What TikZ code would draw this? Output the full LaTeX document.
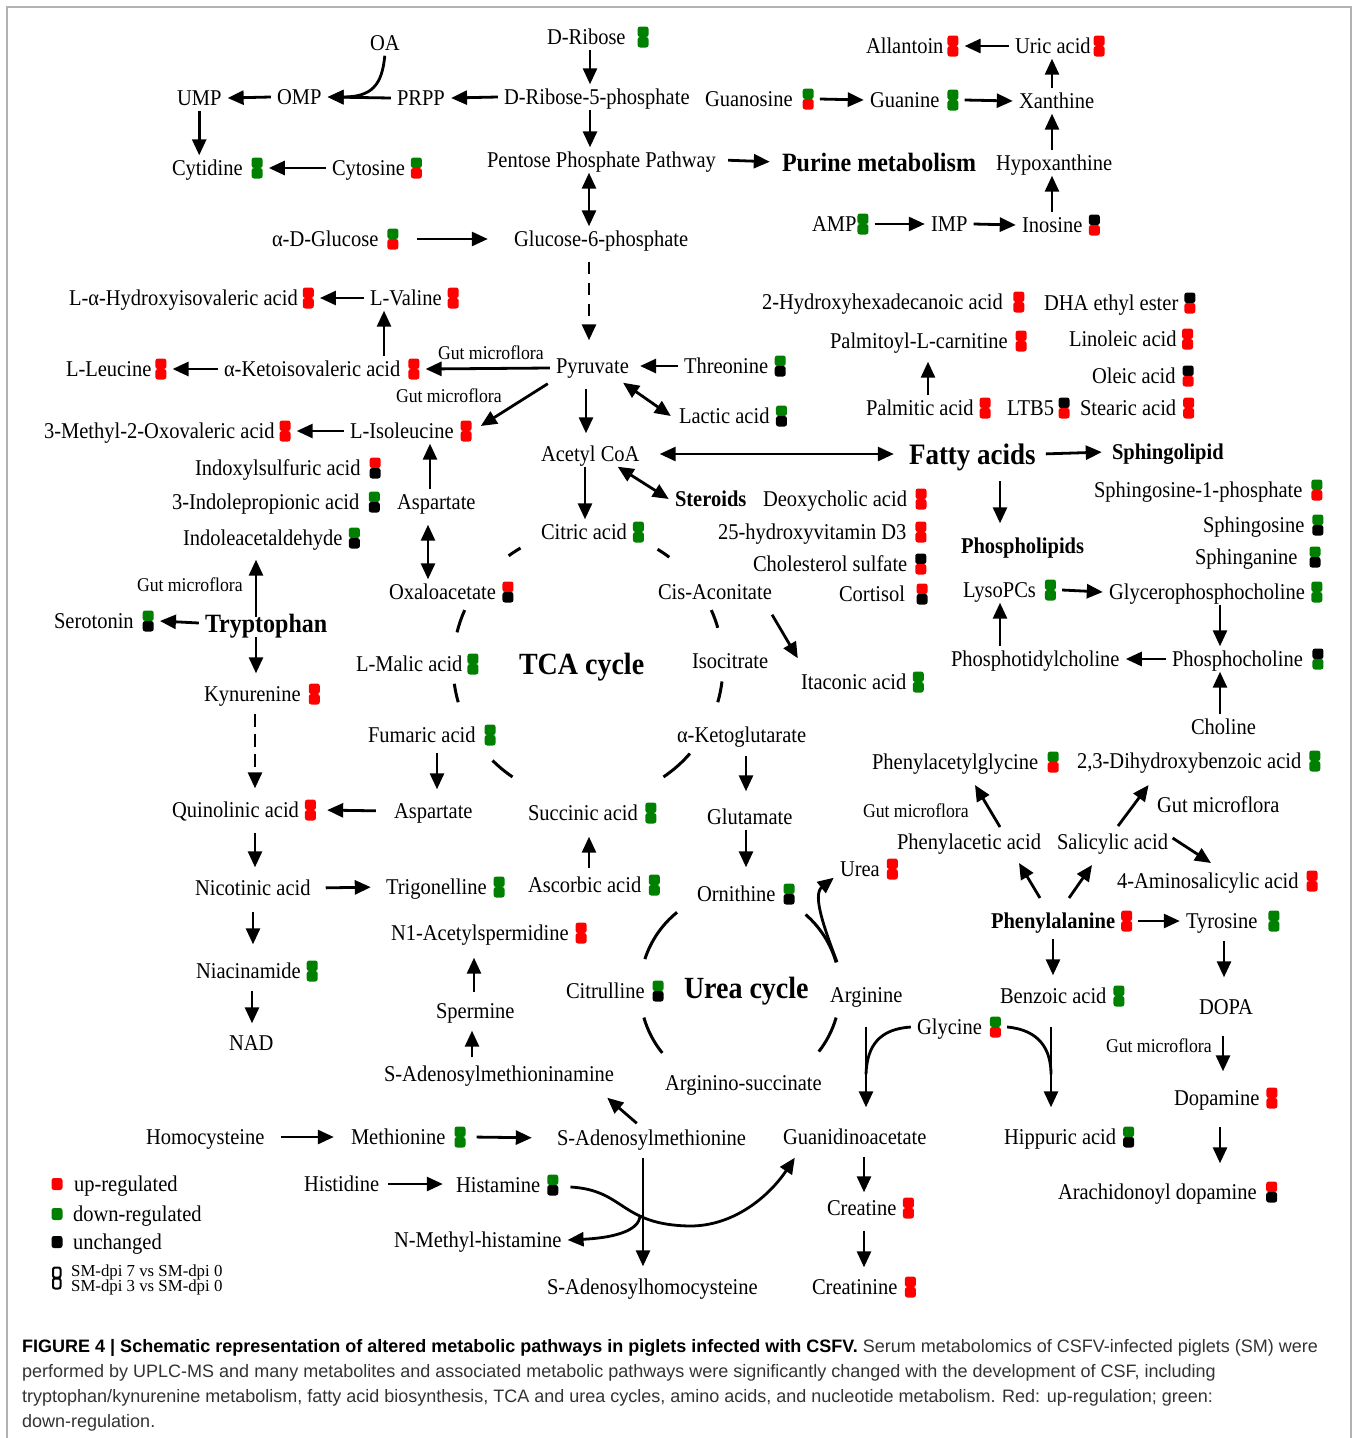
\documentclass[tikz,border=0pt]{standalone}
\usepackage{graphicx}
\usepackage{fontspec}
\setmainfont{Liberation Serif}
\newfontfamily\capfont{Liberation Sans}
\usetikzlibrary{arrows.meta,calc}
\definecolor{mred}{RGB}{255,0,0}
\definecolor{mgreen}{RGB}{0,128,0}
\definecolor{mblack}{RGB}{0,0,0}
\newcommand{\tx}[1]{\scalebox{1}[1.1]{#1}}
\newcommand{\mk}[3][7pt]{\hspace{#1}\tikz[baseline=-7.5pt]{\fill[#2,rounded corners=2.5pt] (0pt,0pt) rectangle (11pt,10.5pt);\fill[#3,rounded corners=2.5pt] (0pt,0pt) rectangle (11pt,-10.5pt);}}
\tikzset{
 nbase/.style={anchor=text, inner xsep=6pt, inner ysep=5pt, text depth=0pt},
 lab/.style={nbase, yshift=-7.5pt, text height=15pt, font=\fontsize{20.5}{24}\selectfont},
 lb/.style={lab, font=\fontsize{20.5}{24}\selectfont\bfseries},
 b24/.style={nbase, yshift=-9pt, text height=18pt, font=\fontsize{24}{28}\selectfont\bfseries},
 b27/.style={nbase, yshift=-10pt, text height=20pt, font=\fontsize{27}{31}\selectfont\bfseries},
 b28/.style={nbase, yshift=-10.5pt, text height=21pt, font=\fontsize{28}{32}\selectfont\bfseries},
 smlab/.style={nbase, yshift=-6.5pt, text height=13pt, font=\fontsize{17.7}{20}\selectfont},
 leglab/.style={anchor=base west, inner sep=0pt, text height=11pt, text depth=2pt, font=\fontsize{16.8}{18}\selectfont},
 captxt/.style={anchor=base west, inner sep=0pt, font=\capfont\fontsize{18}{20}\selectfont, text=black!80},
 arr/.style={line width=2.8pt, -{Triangle[length=16pt,width=14pt]}},
 darr/.style={line width=2.8pt, {Triangle[length=16pt,width=14pt]}-{Triangle[length=16pt,width=14pt]}},
 ln/.style={line width=2.8pt},
 cyc/.style={line width=3pt},
 legsq/.style={minimum width=11pt, minimum height=12pt, inner sep=0pt, rounded corners=2.5pt},
}
\begin{document}
\begin{tikzpicture}[x=1pt,y=-1pt]
\useasboundingbox (0,0) rectangle (1360,1438);
\fill[white] (0,0) rectangle (1360,1438);
\draw[gray!60, line width=1.2pt] (7,1438) -- (7,7) -- (1351,7) -- (1351,1438);

% ---------- nodes ----------
\node[lab] (oa) at (370,43) {\tx{OA}};
\node[lab] (ribose) at (547,37) {\tx{D-Ribose}\mk[12pt]{mgreen}{mgreen}};
\node[lab] (ump) at (177,98) {\tx{UMP}};
\node[lab] (omp) at (277,97) {\tx{OMP}};
\node[lab] (prpp) at (397,98) {\tx{PRPP}};
\node[lab] (r5p) at (504,97) {\tx{D-Ribose-5-phosphate}};
\node[lab] (guanosine) at (705,99) {\tx{Guanosine}\mk[10pt]{mgreen}{mred}};
\node[lab] (guanine) at (870,100) {\tx{Guanine}\mk[8pt]{mgreen}{mgreen}};
\node[lab] (xanthine) at (1019,101) {\tx{Xanthine}};
\node[lab] (allantoin) at (866,46) {\tx{Allantoin}\mk[4pt]{mred}{mred}};
\node[lab] (uric) at (1015,46) {\tx{Uric acid}\mk[3pt]{mred}{mred}};
\node[lab] (cytidine) at (172,168) {\tx{Cytidine}\mk[9pt]{mgreen}{mgreen}};
\node[lab] (cytosine) at (332,168) {\tx{Cytosine}\mk[6pt]{mgreen}{mred}};
\node[lab] (ppp) at (487,160) {\tx{Pentose Phosphate Pathway}};
\node[b24] (purine) at (782,162) {\tx{Purine metabolism}};
\node[lab] (hypox) at (996,163) {\tx{Hypoxanthine}};
\node[lab] (glucose) at (272,239) {\tx{α-D-Glucose}\mk[9pt]{mgreen}{mred}};
\node[lab] (g6p) at (514,239) {\tx{Glucose-6-phosphate}};
\node[lab] (amp) at (812,224) {\tx{AMP}\mk[1pt]{mgreen}{mgreen}};
\node[lab] (imp) at (931,224) {\tx{IMP}};
\node[lab] (inosine) at (1022,225) {\tx{Inosine}\mk[6.5pt]{mblack}{mred}};

\node[lab] (hiv) at (69,298) {\tx{L-α-Hydroxyisovaleric acid}\mk[5pt]{mred}{mred}};
\node[lab] (val) at (370,298) {\tx{L-Valine}\mk[6pt]{mred}{mred}};
\node[lab] (hhd) at (762,302) {\tx{2-Hydroxyhexadecanoic acid}\mk[10.5pt]{mred}{mred}};
\node[lab] (dha) at (1044,303) {\tx{DHA ethyl ester}\mk[6pt]{mblack}{mred}};
\node[lab] (pc) at (830,341) {\tx{Palmitoyl-L-carnitine}\mk[8pt]{mred}{mred}};
\node[lab] (lino) at (1069,339) {\tx{Linoleic acid}\mk[5.5pt]{mred}{mred}};
\node[lab] (leu) at (66,369) {\tx{L-Leucine}\mk[4pt]{mred}{mred}};
\node[lab] (kiv) at (224,369) {\tx{α-Ketoisovaleric acid}\mk[8pt]{mred}{mred}};
\node[smlab] (gm1) at (438,353) {\tx{Gut microflora}};
\node[lab] (pyr) at (556,366) {\tx{Pyruvate}};
\node[lab] (thr) at (684,366) {\tx{Threonine}\mk[6.5pt]{mgreen}{mblack}};
\node[lab] (oleic) at (1092,376) {\tx{Oleic acid}\mk[7pt]{mblack}{mred}};
\node[smlab] (gm2) at (396,396) {\tx{Gut microflora}};
\node[lab] (mov) at (44,431) {\tx{3-Methyl-2-Oxovaleric acid}\mk[5pt]{mred}{mred}};
\node[lab] (ile) at (350,431) {\tx{L-Isoleucine}\mk[7pt]{mred}{mred}};
\node[lab] (lactic) at (679,416) {\tx{Lactic acid}\mk[6.5pt]{mgreen}{mblack}};
\node[lab] (palm) at (866,408) {\tx{Palmitic acid}\mk[6pt]{mred}{mred}};
\node[lab] (ltb5) at (1007,408) {\tx{LTB5}\mk[4.5pt]{mblack}{mred}};
\node[lab] (stearic) at (1080,408) {\tx{Stearic acid}\mk[7pt]{mred}{mred}};
\node[lab] (acoa) at (541,454) {\tx{Acetyl CoA}};
\node[b27] (fatty) at (909,454) {\tx{Fatty acids}};
\node[lb] (sphl) at (1112,452) {\tx{Sphingolipid}};
\node[lab] (indox) at (195,468) {\tx{Indoxylsulfuric acid}\mk[9pt]{mred}{mblack}};
\node[lab] (s1p) at (1094,490) {\tx{Sphingosine-1-phosphate}\mk[9pt]{mgreen}{mred}};
\node[lab] (ipa) at (172,502) {\tx{3-Indolepropionic acid}\mk[9.5pt]{mgreen}{mblack}};
\node[lab] (asp1) at (397,502) {\tx{Aspartate}};
\node[lb] (steroids) at (675,499) {\tx{Steroids}};
\node[lab] (deoxy) at (763,499) {\tx{Deoxycholic acid}\mk[8.5pt]{mred}{mred}};
\node[lab] (sphingosine) at (1203,525) {\tx{Sphingosine}\mk[8pt]{mgreen}{mblack}};
\node[lab] (iald) at (183,538) {\tx{Indoleacetaldehyde}\mk[6.5pt]{mgreen}{mblack}};
\node[lab] (citric) at (541,532) {\tx{Citric acid}\mk[6pt]{mgreen}{mgreen}};
\node[lab] (vitd) at (718,532) {\tx{25-hydroxyvitamin D3}\mk[9pt]{mred}{mred}};
\node[lb] (phl) at (961,546) {\tx{Phospholipids}};
\node[lab] (sphinganine) at (1195,557) {\tx{Sphinganine}\mk[12pt]{mgreen}{mblack}};
\node[lab] (chol) at (753,564) {\tx{Cholesterol sulfate}\mk[8pt]{mblack}{mred}};
\node[smlab] (gm3) at (137,585) {\tx{Gut microflora}};
\node[lab] (oaa) at (389,592) {\tx{Oxaloacetate}\mk[6.5pt]{mred}{mblack}};
\node[lab] (cis) at (658,592) {\tx{Cis-Aconitate}};
\node[lab] (cortisol) at (839,594) {\tx{Cortisol}\mk[11.5pt]{mred}{mblack}};
\node[lab] (lyso) at (963,590) {\tx{LysoPCs}\mk[9pt]{mgreen}{mgreen}};
\node[lab] (gpc) at (1109,592) {\tx{Glycerophosphocholine}\mk[6.5pt]{mgreen}{mgreen}};
\node[lab] (sero) at (54,621) {\tx{Serotonin}\mk[9pt]{mgreen}{mblack}};
\node[b24] (trp) at (205,623) {\tx{Tryptophan}};
\node[lab] (malic) at (356,664) {\tx{L-Malic acid}\mk[5pt]{mgreen}{mgreen}};
\node[b28] (tca) at (519,664) {\tx{TCA cycle}};
\node[lab] (isocit) at (692,661) {\tx{Isocitrate}};
\node[lab] (ptc) at (951,659) {\tx{Phosphotidylcholine}};
\node[lab] (pcho) at (1172,659) {\tx{Phosphocholine}\mk[9.5pt]{mblack}{mgreen}};
\node[lab] (itac) at (801,682) {\tx{Itaconic acid}\mk[6.5pt]{mgreen}{mgreen}};
\node[lab] (kyn) at (204,694) {\tx{Kynurenine}\mk[8pt]{mred}{mred}};
\node[lab] (choline) at (1191,727) {\tx{Choline}};
\node[lab] (fum) at (368,735) {\tx{Fumaric acid}\mk[9pt]{mgreen}{mgreen}};
\node[lab] (akg) at (677,735) {\tx{α-Ketoglutarate}};
\node[lab] (pag) at (872,762) {\tx{Phenylacetylglycine}\mk[9.5pt]{mgreen}{mred}};
\node[lab] (dhb) at (1077,761) {\tx{2,3-Dihydroxybenzoic acid}\mk[8pt]{mgreen}{mgreen}};
\node[lab] (quin) at (172,810) {\tx{Quinolinic acid}\mk[6pt]{mred}{mred}};
\node[lab] (asp2) at (394,811) {\tx{Aspartate}};
\node[lab] (succ) at (528,813) {\tx{Succinic acid}\mk[7.5pt]{mgreen}{mgreen}};
\node[lab] (glu) at (707,817) {\tx{Glutamate}};
\node[smlab] (gm4) at (863,811) {\tx{Gut microflora}};
\node[lab] (gm5) at (1157,805) {\tx{Gut microflora}};
\node[lab] (paa) at (897,842) {\tx{Phenylacetic acid}};
\node[lab] (sal) at (1057,842) {\tx{Salicylic acid}};
\node[lab] (urea) at (840,869) {\tx{Urea}\mk[7pt]{mred}{mred}};
\node[lab] (asa) at (1117,881) {\tx{4-Aminosalicylic acid}\mk[8pt]{mred}{mred}};
\node[lab] (nic) at (195,888) {\tx{Nicotinic acid}};
\node[lab] (trig) at (386,887) {\tx{Trigonelline}\mk[7pt]{mgreen}{mgreen}};
\node[lab] (asc) at (528,885) {\tx{Ascorbic acid}\mk[7.5pt]{mgreen}{mgreen}};
\node[lab] (orn) at (697,894) {\tx{Ornithine}\mk[8pt]{mgreen}{mblack}};
\node[lb] (phe) at (991,921) {\tx{Phenylalanine}\mk[6pt]{mred}{mred}};
\node[lab] (tyr) at (1186,921) {\tx{Tyrosine}\mk[11pt]{mgreen}{mgreen}};
\node[lab] (n1) at (391,933) {\tx{N1-Acetylspermidine}\mk[7pt]{mred}{mred}};
\node[lab] (nia) at (196,971) {\tx{Niacinamide}\mk[6pt]{mgreen}{mgreen}};
\node[lab] (citr) at (566,991) {\tx{Citrulline}\mk[8pt]{mgreen}{mblack}};
\node[b28] (urc) at (684,988) {\tx{Urea cycle}};
\node[lab] (arg) at (830,995) {\tx{Arginine}};
\node[lab] (benz) at (1000,996) {\tx{Benzoic acid}\mk[7pt]{mgreen}{mgreen}};
\node[lab] (dopa) at (1199,1007) {\tx{DOPA}};
\node[lab] (sperm) at (436,1011) {\tx{Spermine}};
\node[lab] (gly) at (917,1027) {\tx{Glycine}\mk[8pt]{mgreen}{mred}};
\node[lab] (nad) at (229,1043) {\tx{NAD}};
\node[smlab] (gm6) at (1106,1046) {\tx{Gut microflora}};
\node[lab] (samn) at (384,1074) {\tx{S-Adenosylmethioninamine}};
\node[lab] (args) at (665,1083) {\tx{Arginino-succinate}};
\node[lab] (dopamine) at (1174,1098) {\tx{Dopamine}\mk[7pt]{mred}{mred}};
\node[lab] (hcy) at (146,1137) {\tx{Homocysteine}};
\node[lab] (met) at (351,1137) {\tx{Methionine}\mk[9pt]{mgreen}{mgreen}};
\node[lab] (sam) at (557,1138) {\tx{S-Adenosylmethionine}};
\node[lab] (gaa) at (783,1137) {\tx{Guanidinoacetate}};
\node[lab] (hip) at (1004,1137) {\tx{Hippuric acid}\mk[7pt]{mgreen}{mblack}};
\node[lab] (his) at (304,1184) {\tx{Histidine}};
\node[lab] (hist) at (456,1185) {\tx{Histamine}\mk[7pt]{mgreen}{mblack}};
\node[lab] (ada) at (1058,1192) {\tx{Arachidonoyl dopamine}\mk[9.5pt]{mred}{mblack}};
\node[lab] (creatine) at (827,1208) {\tx{Creatine}\mk[6.5pt]{mred}{mred}};
\node[lab] (nmh) at (394,1240) {\tx{N-Methyl-histamine}};
\node[lab] (sah) at (547,1287) {\tx{S-Adenosylhomocysteine}};
\node[lab] (creatinine) at (812,1287) {\tx{Creatinine}\mk[7.5pt]{mred}{mred}};

% ---------- cycles ----------
\coordinate (tcac) at (588,665);
\foreach \a/\b in {-126/-120,-166/-156,164/172,124/135,41/56,7/16,-24/-16,-59/-53}
  \draw[cyc] ($(tcac)+(\a:135)$) arc[start angle=\a, end angle=\b, radius=135];
\coordinate (ureac) at (740,990);
\foreach \a/\b in {-162/-129,141/164,-49/-16,16/38}
  \draw[cyc] ($(ureac)+(\a:100)$) arc[start angle=\a, end angle=\b, radius=100];

% ---------- connectors: top ----------
\draw[arr] (ribose.south -| 590,0) -- (r5p.north -| 590,0);
\draw[arr] (r5p.south -| 590,0) -- (ppp.north -| 590,0);
\draw[darr] (ppp.south -| 589,0) -- (g6p.north -| 589,0);
\draw[arr, dash pattern=on 12pt off 9pt, shorten <=10pt, shorten >=13pt] (g6p.south -| 589,0) -- (pyr.north -| 589,0);
\draw[arr] (r5p.west) -- (prpp.east);
\draw[arr] (prpp.west) -- (omp.east);
\draw[arr] (oa.south) .. controls (382,85) and (372,97) .. (omp.east);
\draw[arr] (omp.west) -- (ump.east);
\draw[arr] (ump.south) -- (ump.south |- cytidine.north);
\draw[arr] (cytosine.west) -- (cytidine.east);
\draw[arr, shorten <=12pt, shorten >=20pt] (glucose.east) -- (g6p.west);
\draw[arr] (guanosine.east) -- (guanine.west);
\draw[arr] (guanine.east) -- (xanthine.west);
\draw[arr] (xanthine.north -| 1052,0) -- (uric.south -| 1052,0);
\draw[arr] (uric.west) -- (allantoin.east);
\draw[arr] (hypox.north -| 1052,0) -- (xanthine.south -| 1052,0);
\draw[arr] (inosine.north -| 1052,0) -- (hypox.south -| 1052,0);
\draw[arr] (amp.east) -- (imp.west);
\draw[arr] (imp.east) -- (inosine.west);
\draw[arr, shorten <=6pt, shorten >=6pt] (ppp.east) -- (purine.west);

% ---------- amino acids / pyruvate ----------
\draw[arr] (val.west) -- (hiv.east);
\draw[arr] (kiv.north -| 384,0) -- (val.south -| 384,0);
\draw[arr] (kiv.west) -- (leu.east);
\draw[arr] ($(pyr.west)+(0,2)$) -- (kiv.east);
\draw[arr, shorten >=5pt] (thr.west) -- (pyr.east);
\draw[arr] ($(pyr.south west)+(-2,5)$) -- ($(ile.east)+(3,-5)$);
\draw[arr, shorten <=10pt, shorten >=8pt] (pyr.south -| 586,0) -- (acoa.north -| 586,0);
\draw[darr] ($(pyr.south east)+(-12,4)$) -- ($(lactic.west)+(-2,0)$);
\draw[arr] (ile.west) -- (mov.east);
\draw[arr] (asp1.north -| 430,0) -- (ile.south -| 430,0);
\draw[darr, shorten <=10pt] (asp1.south -| 428,0) -- (oaa.north -| 428,0);
\draw[arr] (acoa.south -| 585,0) -- (citric.north -| 585,0);
\draw[darr] ($(acoa.south east)+(-28,0)$) -- (steroids.west);
\draw[darr, shorten <=14pt, shorten >=9pt] (acoa.east) -- (fatty.west);
\draw[arr, shorten <=4pt, shorten >=4pt] (fatty.east) -- (sphl.west);
\draw[arr, shorten <=12pt, shorten >=10pt] (fatty.south -| 1000,0) -- (phl.north -| 1000,0);
\draw[arr, shorten >=8pt] (palm.north -| 928,0) -- (pc.south -| 928,0);

% ---------- phospholipids ----------
\draw[arr] (lyso.east) -- (gpc.west);
\draw[arr] (gpc.south -| 1220,0) -- (pcho.north -| 1220,0);
\draw[arr] (pcho.west) -- (ptc.east);
\draw[arr] (ptc.north -| 1000,0) -- (lyso.south -| 1000,0);
\draw[arr] (choline.north -| 1220,0) -- (pcho.south -| 1220,0);

% ---------- tryptophan ----------
\draw[arr, shorten <=-8pt, shorten >=9pt] (trp.north -| 256,0) -- (iald.south -| 256,0);
\draw[arr] (trp.west) -- (sero.east);
\draw[arr, shorten >=8pt] (trp.south -| 256,0) -- (kyn.north -| 256,0);
\draw[arr, dash pattern=on 13pt off 7pt, shorten <=7pt, shorten >=9pt] (kyn.south -| 255,0) -- (quin.north -| 255,0);
\draw[arr, shorten <=12pt, shorten >=5pt] (asp2.west) -- (quin.east);
\draw[arr, shorten <=5pt, shorten >=9pt] (fum.south -| 437,0) -- (asp2.north -| 437,0);
\draw[arr, shorten <=10pt, shorten >=8pt] (quin.south -| 255,0) -- (nic.north -| 255,0);
\draw[arr, shorten <=9pt, shorten >=9pt] (nic.east) -- (trig.west);
\draw[arr, shorten <=11pt, shorten >=14pt] (nic.south -| 253,0) -- (nia.north -| 253,0);
\draw[arr, shorten <=7pt, shorten >=7pt] (nia.south -| 252,0) -- (nad.north -| 252,0);
\draw[arr, shorten <=4pt, shorten >=11pt] (asc.north -| 589,0) -- (succ.south -| 589,0);
\draw[arr, shorten <=8pt, shorten >=13pt] (akg.south -| 746,0) -- (glu.north -| 746,0);
\draw[arr, shorten >=14pt] (glu.south -| 746,0) -- (orn.north -| 746,0);
\draw[arr] ($(cis.south east)+(-6,10)$) -- ($(itac.north west)+(3,-11)$);

% ---------- polyamines / methionine ----------
\draw[arr, shorten <=6pt, shorten >=12pt] (sperm.north -| 474,0) -- (n1.south -| 474,0);
\draw[arr, shorten <=4pt, shorten >=7pt] (samn.north -| 472,0) -- (sperm.south -| 472,0);
\draw[arr] ($(sam.north west)+(86,-2)$) -- ($(samn.south east)+(-13,11)$);
\draw[arr, shorten <=10pt, shorten >=11pt] (hcy.east) -- (met.west);
\draw[arr, shorten <=5pt, shorten >=19pt] (met.east) -- (sam.west);
\draw[arr, shorten <=3pt, shorten >=7pt] (his.east) -- (his.east -| hist.west);
\draw[arr, shorten <=7pt, shorten >=8pt] (sam.south -| 643,0) -- (sah.north -| 643,0);
\draw[arr] ($(hist.east)+(6,2)$) .. controls (625,1190) and (620,1225) .. (690,1226) .. controls (735,1226) and (770,1195) .. ($(gaa.south west)+(18,8)$);
\coordinate (hbr) at (640,1215);
\draw[arr] (hbr) .. controls (640,1232) and (610,1238) .. (nmh.east);

% ---------- phenylalanine ----------
\draw[arr] (phe.east) -- (tyr.west);
\draw[arr] ($(phe.text)+(49,-30.5)$) -- ($(paa.text)+(122,13.5)$);
\draw[arr] ($(phe.text)+(78,-30.5)$) -- ($(sal.text)+(35,15.5)$);
\draw[arr] ($(paa.text)+(103,-22.5)$) -- ($(pag.text)+(103,15.5)$);
\draw[arr] ($(sal.text)+(61,-23.5)$) -- ($(dhb.text)+(71.6,16.5)$);
\draw[arr] ($(sal.text)+(115.6,-11.5)$) -- ($(asa.text)+(94,-25.5)$);
\draw[arr, shorten <=5pt, shorten >=8pt] (phe.south -| 1053,0) -- (benz.north -| 1053,0);
\draw[arr, shorten <=7pt, shorten >=17pt] (tyr.south -| 1224,0) -- (dopa.north -| 1224,0);
\draw[arr, shorten <=16pt, shorten >=14pt] (dopa.south -| 1223,0) -- (dopamine.north -| 1223,0);
\draw[arr, shorten <=16pt, shorten >=16pt] (dopamine.south -| 1220,0) -- (ada.north -| 1220,0);

% ---------- urea / creatine ----------
\draw[arr, shorten <=19pt, shorten >=17pt] (arg.south -| 866,0) -- (gaa.north -| 866,0);
\draw[ln] (gly.west) .. controls (880,1029) and (867,1045) .. ($(gaa.north -| 866,0)+(0,-50)$);
\draw[arr, shorten <=18pt, shorten >=17pt] (benz.south -| 1051,0) -- (hip.north -| 1051,0);
\draw[ln] (gly.east) .. controls (1040,1030) and (1051,1050) .. ($(hip.north -| 1051,0)+(0,-50)$);
\draw[arr, shorten <=7pt, shorten >=3pt] (gaa.south -| 864,0) -- (creatine.north -| 864,0);
\draw[arr, shorten <=10pt, shorten >=7pt] (creatine.south -| 864,0) -- (creatinine.north -| 864,0);
\coordinate (uarc) at (837,962);
\draw[arr] (uarc) .. controls (825,930) and (812,895) .. ($(urea.south west)+(0,-4)$);

% ---------- legend ----------
\node[legsq, fill=mred] (lgr) at (57,1184) {};
\node[legsq, fill=mgreen] (lgg) at (57,1214) {};
\node[legsq, fill=mblack] (lgk) at (57,1242) {};
\node[lab] (lup) at (74,1184) {\tx{up-regulated}};
\node[lab] (ldown) at (73,1214) {\tx{down-regulated}};
\node[lab] (lunch) at (73,1242) {\tx{unchanged}};
\draw[line width=2pt, rounded corners=2pt] (53,1267.5) rectangle (60.5,1277.5);
\draw[line width=2pt, rounded corners=2pt] (53,1278.5) rectangle (60.5,1288.5);
\node[leglab] (l7) at (71,1276) {SM-dpi 7 vs SM-dpi 0};
\node[leglab] (l3) at (71,1291.5) {SM-dpi 3 vs SM-dpi 0};

% ---------- caption ----------
\node[captxt] (cap1) at (22,1352) {{\color{black}\bfseries FIGURE 4 | Schematic representation of altered metabolic pathways in piglets infected with CSFV.} Serum metabolomics of CSFV-infected piglets (SM) were};
\node[captxt] (cap2) at (22,1377) {performed by UPLC-MS and many metabolites and associated metabolic pathways were significantly changed with the development of CSF, including};
\node[captxt] (cap3) at (22,1402) {tryptophan/kynurenine metabolism, fatty acid biosynthesis, TCA and urea cycles, amino acids, and nucleotide metabolism. Red: up-regulation; green:};
\node[captxt] (cap4) at (22,1427) {down-regulation.};
\end{tikzpicture}
\end{document}
